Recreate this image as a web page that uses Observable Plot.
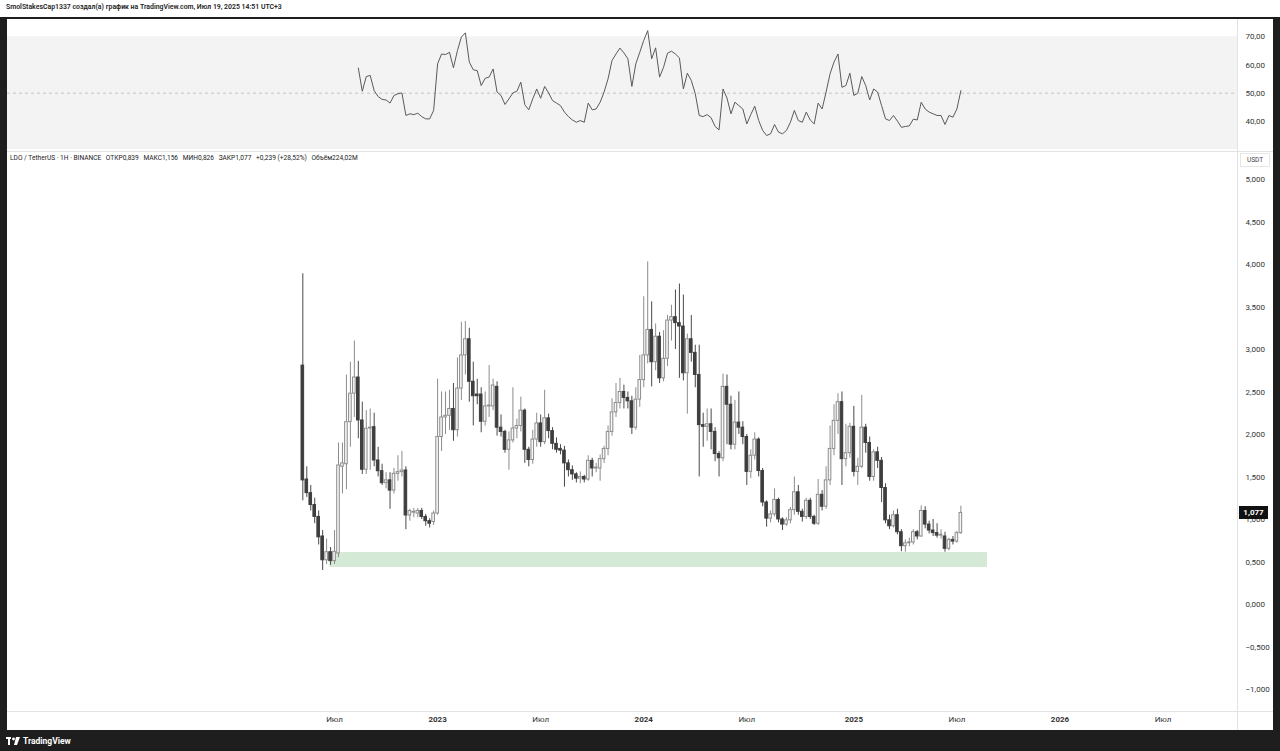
<!DOCTYPE html>
<html><head><meta charset="utf-8">
<script src="https://cdn.jsdelivr.net/npm/d3@7"></script>
<script src="https://cdn.jsdelivr.net/npm/@observablehq/plot@0.6"></script>
<style>
html,body{margin:0;padding:0;background:#fff;}
body{width:1280px;height:751px;position:relative;overflow:hidden;font-family:Roboto,"Noto Sans",sans-serif;}
#title{position:absolute;left:6px;top:3px;font-size:6.9px;font-weight:600;color:#222;white-space:nowrap;}
#frame{position:absolute;left:0;top:17px;width:1280px;height:734px;background:#1e1e1e;}
#chart{position:absolute;left:7px;top:19px;width:1266px;height:711px;background:#fff;overflow:hidden;}
#rsi{position:absolute;left:0;top:0;}
#price{position:absolute;left:0;top:132px;}
.hline{position:absolute;height:1px;background:#e3e3e3;}
.vline{position:absolute;width:1px;background:#e3e3e3;}
#legend{position:absolute;left:3px;top:135px;font-size:6.6px;color:#222;white-space:nowrap;}
#legend span{margin-right:3px;}
#usdt{position:absolute;left:1233px;top:134px;width:28px;height:12px;border:1px solid #e6e6e6;font-size:6.5px;color:#444;text-align:center;line-height:12px;background:#fff;}
#last{position:absolute;left:1232px;width:29px;height:13px;background:#111;color:#fff;font-size:8px;font-weight:700;text-align:center;line-height:13px;}
#logo{position:absolute;left:6px;top:736px;color:#fff;font-size:8.5px;font-weight:700;display:flex;align-items:center;gap:3px;}
</style></head><body>
<div id="title">SmolStakesCap1337 создал(а) график на TradingView.com, Июл 19, 2025 14:51 UTC+3</div>
<div id="frame"></div>
<div id="chart">
  <div id="rsi"></div>
  <div id="price"></div>
  <div class="hline" style="left:0;top:132px;width:1266px;"></div>
  <div class="hline" style="left:0;top:692px;width:1266px;"></div>
  <div class="vline" style="left:1230px;top:0;height:711px;"></div>
  <div id="legend"><span>LDO / TetherUS · 1H · BINANCE</span> <span>ОТКР0,839</span> <span>МАКС1,156</span> <span>МИН0,826</span> <span>ЗАКР1,077</span> <span>+0,239 (+28,52%)</span> <span>Объём224,02M</span></div>
  <div id="usdt">USDT</div>
  <div id="last">1,077</div>
</div>
<div id="logo"><svg width="14" height="8" viewBox="0 0 14 8"><rect x="0" y="0" width="5" height="2" fill="#fff"/><rect x="2" y="0" width="2" height="8" fill="#fff"/><circle cx="7.5" cy="2" r="1.4" fill="#fff"/><path d="M10 0 L14 0 L11 8 L8 8 Z" fill="#fff"/></svg><span>TradingView</span></div>
<script>
// ---- data (weekly candles, first week 2022-05-09) ----
const firstWeek = "2022-05-09";
const open = [2.81,1.47,1.31,1.17,1.03,0.80,0.52,0.615,0.51,0.60,1.62,1.65,2.145,2.48,2.67,2.165,1.585,2.07,2.086,1.694,1.568,1.427,1.46,1.34,1.537,1.557,1.576,1.047,1.08,1.07,1.10,1.03,0.98,0.97,1.07,1.97,2.20,2.22,2.30,2.05,2.54,2.93,3.12,2.62,2.47,2.47,2.15,2.33,2.33,2.56,2.08,2.03,1.82,1.93,2.07,2.10,2.28,1.82,1.70,1.94,2.13,1.91,2.19,2.04,1.89,1.83,1.81,1.66,1.58,1.53,1.48,1.50,1.47,1.69,1.60,1.60,1.71,1.83,2.03,2.26,2.37,2.50,2.43,2.39,2.08,2.41,2.64,2.93,3.23,2.85,3.15,2.66,2.89,3.34,3.38,3.31,3.27,2.72,3.12,2.96,2.70,2.11,2.09,2.12,2.03,1.77,1.72,2.56,2.35,1.88,2.14,2.08,1.97,1.56,1.75,1.94,1.57,1.20,1.01,1.06,1.23,1.00,0.94,0.99,1.11,1.32,1.09,1.03,1.22,1.03,0.95,1.29,1.15,1.46,1.83,2.16,2.38,1.71,1.78,2.09,1.56,1.62,2.08,1.90,1.50,1.79,1.69,1.37,0.99,0.92,1.05,0.85,0.686,0.72,0.73,0.85,0.80,1.10,0.94,0.87,0.84,0.81,0.80,0.655,0.76,0.74,0.839];
const high = [3.89,1.62,1.40,1.25,1.10,0.87,0.77,0.67,0.87,1.90,1.90,2.70,2.85,3.10,2.86,2.38,2.28,2.30,2.25,1.85,1.65,1.55,1.55,1.60,1.75,1.80,1.62,1.12,1.13,1.13,1.13,1.06,1.01,1.10,2.65,2.50,2.50,2.52,2.60,2.90,3.32,3.33,3.25,2.85,2.65,2.55,2.50,2.81,2.65,2.62,2.23,2.05,2.03,2.55,2.18,2.44,2.30,1.85,2.05,2.25,2.23,2.52,2.24,2.08,1.96,1.88,1.86,1.70,1.63,1.55,1.56,1.52,1.75,1.72,1.66,1.76,1.86,2.10,2.42,2.60,2.66,2.58,2.50,2.45,2.55,2.93,3.62,4.03,3.56,3.30,3.20,3.22,3.40,3.52,3.70,3.77,3.64,3.18,3.40,3.05,3.05,2.25,2.30,2.30,2.08,1.80,2.71,2.70,2.45,2.40,2.50,2.15,2.00,1.82,2.02,1.96,1.60,1.22,1.10,1.36,1.25,1.02,1.02,1.14,1.50,1.40,1.12,1.25,1.25,1.05,1.47,1.34,1.62,2.10,2.35,2.48,2.50,2.12,2.13,2.33,1.72,2.46,2.12,1.97,1.82,1.85,1.73,1.42,1.05,1.10,1.12,0.88,0.76,0.78,0.88,0.87,1.16,1.15,0.98,1.00,0.95,0.88,0.85,0.78,0.80,0.86,1.156];
const low = [1.22,1.26,1.10,0.95,0.70,0.40,0.47,0.46,0.47,0.55,1.30,1.35,1.85,2.20,1.95,1.53,1.53,1.58,1.62,1.50,1.40,1.36,1.12,1.30,1.45,1.50,0.88,0.98,1.02,1.02,1.00,0.92,0.90,0.93,1.05,1.80,2.00,2.05,1.92,1.97,2.40,2.70,2.38,2.10,2.35,2.02,2.10,2.20,2.28,1.98,1.97,1.78,1.58,1.90,1.95,2.03,1.66,1.62,1.65,1.85,1.85,1.88,1.95,1.82,1.78,1.76,1.38,1.50,1.46,1.43,1.42,1.43,1.45,1.50,1.55,1.45,1.66,1.75,1.98,2.20,2.30,2.30,2.30,2.00,2.05,2.32,2.55,2.83,2.56,2.75,2.60,2.62,2.80,3.10,3.00,2.66,2.63,2.24,2.85,2.55,1.50,1.85,1.92,1.82,1.68,1.50,1.68,1.88,1.82,1.82,2.00,1.88,1.40,1.48,1.70,1.50,1.15,0.91,0.96,1.03,0.96,0.87,0.92,0.95,1.05,1.05,0.97,1.00,1.00,0.93,0.93,1.10,1.12,1.40,1.75,2.00,1.40,1.62,1.72,1.50,1.40,1.60,1.78,1.45,1.45,1.60,1.20,0.95,0.88,0.90,0.82,0.62,0.615,0.68,0.70,0.76,0.79,0.89,0.83,0.80,0.78,0.77,0.615,0.63,0.70,0.72,0.826];
const close = [1.46,1.31,1.17,1.03,0.79,0.52,0.615,0.51,0.62,1.635,1.66,2.145,2.48,2.67,2.165,1.585,2.067,2.08,1.694,1.568,1.427,1.46,1.34,1.537,1.557,1.576,1.047,1.10,1.09,1.10,1.03,0.98,0.95,1.07,1.97,2.20,2.22,2.30,2.05,2.54,2.93,3.12,2.62,2.45,2.45,2.15,2.33,2.34,2.576,2.08,2.03,1.82,1.93,2.07,2.10,2.28,1.82,1.70,1.94,2.13,1.91,2.19,2.04,1.89,1.82,1.81,1.66,1.58,1.53,1.48,1.50,1.47,1.69,1.60,1.61,1.71,1.83,2.03,2.26,2.37,2.50,2.43,2.39,2.08,2.41,2.64,2.93,3.23,2.85,3.15,2.66,2.89,3.34,3.38,3.31,3.27,2.72,3.12,2.96,2.70,2.11,2.09,2.12,2.03,1.77,1.72,2.56,2.35,1.88,2.14,2.08,1.97,1.56,1.75,1.94,1.57,1.20,1.01,1.06,1.23,1.00,0.94,0.99,1.11,1.32,1.09,1.03,1.22,1.03,0.95,1.29,1.15,1.46,1.83,2.16,2.38,1.71,1.78,2.09,1.56,1.62,2.08,1.90,1.50,1.79,1.69,1.37,0.99,0.92,1.05,0.85,0.686,0.72,0.73,0.85,0.80,1.10,0.94,0.87,0.84,0.81,0.82,0.655,0.76,0.74,0.839,1.077];
// RSI(14), starting at candle 14
const rsiStart = 14;
const rsi = [58.9,50.7,55.9,56.3,50.9,48.8,47.8,47.6,46.5,49.2,49.8,50.1,42.1,42.7,42.4,42.9,41.7,40.9,40.9,43.9,60.4,63.9,63.7,64.5,59.0,65.1,69.9,71.4,61.0,58.3,58.0,52.7,55.3,55.7,58.6,50.4,49.2,46.0,48.0,50.1,50.7,53.9,45.9,44.1,48.0,51.5,48.2,52.4,50.1,47.4,46.5,45.6,43.3,41.7,40.5,39.7,40.3,39.7,46.5,44.1,44.4,46.8,50.4,55.1,61.6,63.9,66.0,64.3,62.2,52.4,60.4,64.5,68.7,72.2,62.2,66.1,55.7,
59.2,64.2,64.9,63.9,62.5,51.5,57.1,54.5,49.8,42.1,41.7,42.4,41.3,38.2,37.0,51.5,48.3,42.7,46.8,45.6,44.4,39.1,42.4,45.4,40.3,36.8,35.0,35.6,38.9,36.2,35.6,36.8,39.7,43.9,40.3,39.7,43.3,40.5,39.1,46.5,44.4,50.4,56.9,61.0,63.9,52.1,52.7,57.1,49.2,50.0,55.9,52.7,47.6,51.5,50.4,45.6,40.9,40.3,42.1,40.1,37.9,38.2,38.4,40.8,40.5,46.8,44.4,43.3,42.7,42.1,42.1,38.9,42.1,41.5,44.4,50.9];
// support zone
const zoneStart = "2022-06-26", zoneEnd = "2025-08-30", zoneLow = 0.435, zoneHigh = 0.612;
// tick labels
const xTickDates = ["2022-07-04","2023-01-02","2023-07-03","2024-01-01","2024-07-01","2025-01-06","2025-07-07","2026-01-05","2026-07-06"];
const xTickLabels = ["Июл","2023","Июл","2024","Июл","2025","Июл","2026","Июл"];
const priceTicks = [-1,-0.5,0,0.5,1,1.5,2,2.5,3,3.5,4,4.5,5];
const rsiTicks = [40,50,60,70];
const lastPrice = 1.077;

// ---- build tables ----
const DAY = 864e5;
const t0 = new Date(firstWeek + "T00:00:00Z");
const candles = close.map((c, i) => ({date: d3.utcMonday.offset(t0, i), open: open[i], high: high[i], low: low[i], close: c}));
const rsiData = rsi.map((v, k) => ({date: d3.utcMonday.offset(t0, rsiStart + k), rsi: v}));
const xDomain = [new Date(+t0 - 521.5*DAY), new Date(+t0 + 1650.5*DAY)];
const tickMap = new Map(xTickDates.map((d, i) => [+new Date(d + "T00:00:00Z"), xTickLabels[i]]));
const fmtNum = (d, n) => (d < 0 ? "\u2212" : "") + Math.abs(d).toFixed(n).replace(".", ",");
const W = 1266, MR = 36;
const baseStyle = {fontFamily: "Roboto, 'Noto Sans', sans-serif", fontSize: "8px", color: "#333", background: "transparent", overflow: "visible"};

// ---- RSI pane ----
const rsiPlot = Plot.plot({
  width: W, height: 132, marginLeft: 0, marginRight: MR, marginTop: 0, marginBottom: 0,
  style: baseStyle,
  x: {type: "utc", domain: xDomain, axis: null},
  y: {domain: [29.33, 76.13], label: null},
  marks: [
    Plot.rect([0], {y1: 30, y2: 70, fill: "#f3f3f3"}),
    Plot.ruleY([50], {stroke: "#c4c4c4", strokeDasharray: "3,3"}),
    Plot.line(rsiData, {x: "date", y: "rsi", stroke: "#5a5a5a", strokeWidth: 1}),
    Plot.axisY({anchor: "right", label: null, ticks: rsiTicks, tickFormat: d => fmtNum(d, 2), tickSize: 0, tickPadding: 8, fill: "#333"})
  ]
});
document.getElementById("rsi").append(rsiPlot);

// ---- price pane ----
const up = d => d.close >= d.open;
const pricePlot = Plot.plot({
  width: W, height: 579, marginLeft: 0, marginRight: MR, marginTop: 0, marginBottom: 19,
  style: baseStyle,
  x: {type: "utc", domain: xDomain, label: null},
  y: {domain: [-1.259, 5.329], label: null},
  marks: [
    Plot.rect([{x1: new Date(zoneStart), x2: new Date(zoneEnd), y1: zoneLow, y2: zoneHigh}], {x1: "x1", x2: "x2", y1: "y1", y2: "y2", fill: "#d4ead6"}),
    Plot.ruleX(candles, {x: "date", y1: "low", y2: "high", stroke: d => up(d) ? "#8c8c8c" : "#4a4a4a", strokeWidth: 1}),
    Plot.rect(candles, {
      x1: d => new Date(+d.date - 2.3*DAY), x2: d => new Date(+d.date + 2.3*DAY),
      y1: "open", y2: "close",
      fill: d => up(d) ? "#f7f7f7" : "#3e3e3e",
      stroke: d => up(d) ? "#8c8c8c" : "#3e3e3e", strokeWidth: 1
    }),
    Plot.axisY({anchor: "right", label: null, ticks: priceTicks, tickFormat: d => fmtNum(d, 3), tickSize: 0, tickPadding: 8, fill: "#333"}),
    Plot.axisX({label: null, ticks: xTickDates.map(d => new Date(d + "T00:00:00Z")), tickFormat: d => tickMap.get(+d) ?? "", tickSize: 0, tickPadding: 5, fill: "#333"})
  ]
});
document.getElementById("price").append(pricePlot);
pricePlot.querySelectorAll('g[aria-label="x-axis tick label"] text').forEach(t => {
  if (/^\d{4}$/.test(t.textContent)) t.setAttribute("font-weight", "bold");
});
// current price label positioned through the y scale
const yS = pricePlot.scale("y");
document.getElementById("last").style.top = (132 + yS.apply(lastPrice) - 6.5) + "px";
</script>
</body></html>
